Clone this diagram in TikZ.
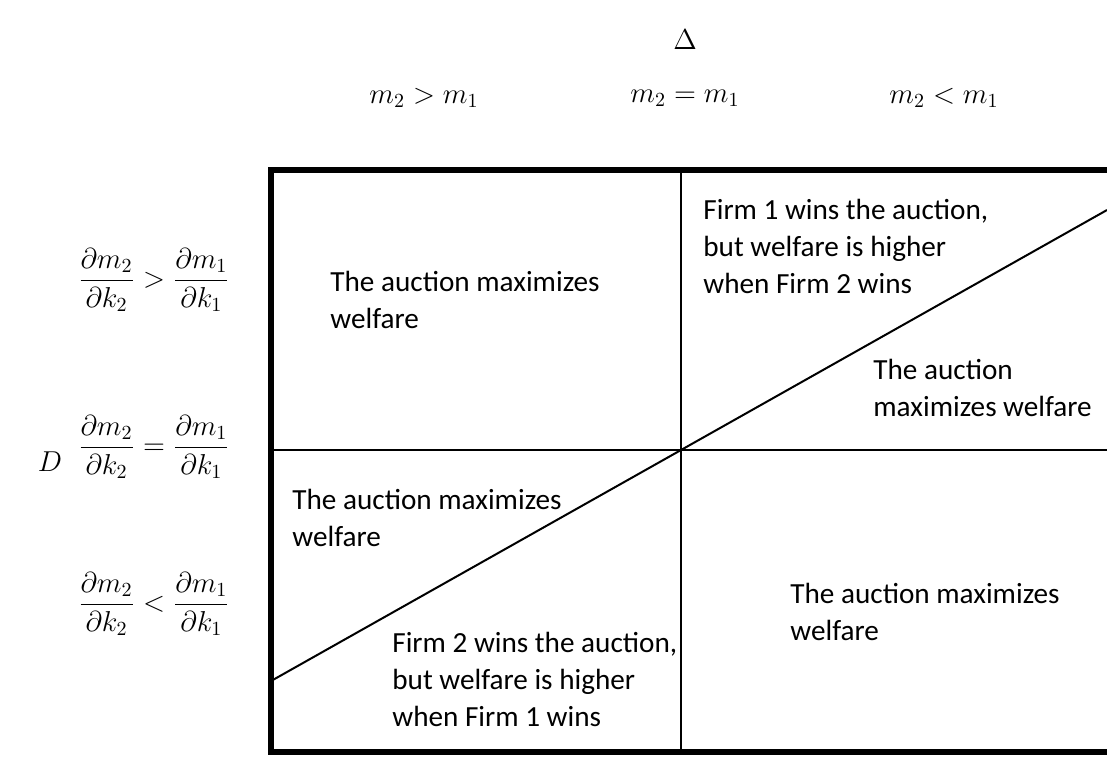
\documentclass[tikz,border=0pt]{standalone}
\usepackage{amsmath}
\usepackage{fontspec}
\setmainfont{Carlito}
\begin{document}
\begin{tikzpicture}[
    x=0.5pt, y=-0.5pt,
    font=\fontsize{14.6}{18.5}\selectfont,
    frame/.style={line width=3pt},
    divider/.style={line width=1pt},
    cell/.style={anchor=base west, align=left, inner sep=0pt},
    lbl/.style={inner sep=0pt},
  ]
  \useasboundingbox (0,0) rectangle (1107,757);

  \coordinate (nw) at (271,170);
  \coordinate (sw) at (271,752);
  \coordinate (ne) at (1107,170);
  \coordinate (se) at (1107,752);
  \coordinate (midtop) at (681,170);
  \coordinate (midbot) at (681,752);
  \coordinate (leftmid) at (271,450);
  \coordinate (rightmid) at (1107,450);
  \coordinate (diagstart) at (271,681);
  \coordinate (diagend) at (1107,210);

  \draw[divider] (midtop) -- (midbot);
  \draw[divider] (leftmid) -- (rightmid);
  \draw[divider] (diagstart) -- (diagend);
  \draw[frame] (ne) -- (nw) -- (sw) -- (se);

  \node[lbl] (delta) at (685,40) {$\Delta$};
  \node[lbl] (mgt) at (424,98) {$m_2 > m_1$};
  \node[lbl] (meq) at (685,98) {$m_2 = m_1$};
  \node[lbl] (mlt) at (944,98) {$m_2 < m_1$};

  \node[lbl] (dD) at (50,462) {$D$};
  \node[lbl] (dgt) at (154,280) {$\dfrac{\partial m_2}{\partial k_2} > \dfrac{\partial m_1}{\partial k_1}$};
  \node[lbl] (deq) at (154,447) {$\dfrac{\partial m_2}{\partial k_2} = \dfrac{\partial m_1}{\partial k_1}$};
  \node[lbl] (dlt) at (154,604) {$\dfrac{\partial m_2}{\partial k_2} < \dfrac{\partial m_1}{\partial k_1}$};

  \node[cell] (topleft) at (330,328) {The auction maximizes\\welfare};
  \node[cell] (topright) at (703,293) {Firm 1 wins the auction,\\but welfare is higher\\when Firm 2 wins};
  \node[cell] (rightup) at (873,416) {The auction\\maximizes welfare};
  \node[cell] (leftdown) at (292,546) {The auction maximizes\\welfare};
  \node[cell] (botleft) at (392,726) {Firm 2 wins the auction,\\but welfare is higher\\when Firm 1 wins};
  \node[cell] (botright) at (790,640) {The auction maximizes\\welfare};
\end{tikzpicture}
\end{document}
